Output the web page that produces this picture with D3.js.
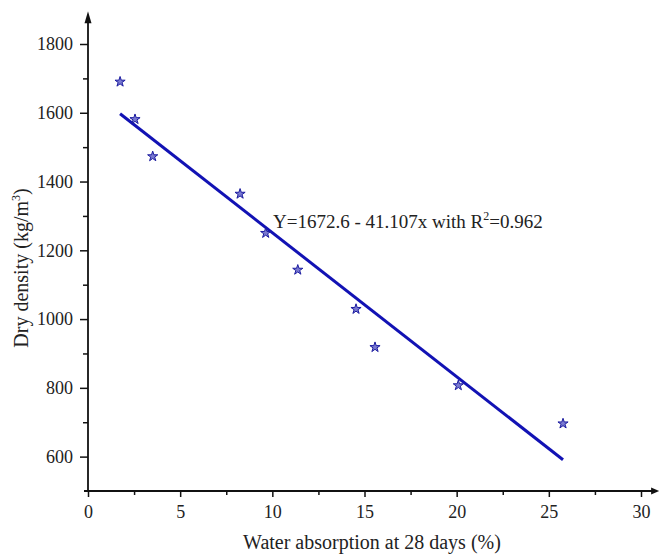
<!DOCTYPE html>
<html>
<head>
<meta charset="utf-8">
<script src="https://cdn.jsdelivr.net/npm/d3@7"></script>
<style>
  body { margin: 0; background: #fff; }
  svg text { font-family: "Liberation Serif", "Times New Roman", serif; fill: #222; }
</style>
</head>
<body>
<div id="chart-area"></div>
<script>
// data
var absorption = [1.74, 2.55, 3.51, 8.25, 9.64, 11.38, 14.54, 15.57, 20.09, 25.77];
var density    = [1690, 1581, 1473, 1364, 1250, 1143, 1029, 918, 807, 696];
var fitX = [1.74, 25.77];
var fitY = [1597, 591];
var xTicks = [0, 5, 10, 15, 20, 25, 30];
var xMinor = [2.5, 7.5, 12.5, 17.5, 22.5, 27.5];
var yTicks = [600, 800, 1000, 1200, 1400, 1600, 1800];
var yMinor = [700, 900, 1100, 1300, 1500, 1700];
var equation = "Y=1672.6 - 41.107x with R";

var width = 660, height = 556;
var serif = "'Liberation Serif', 'Times New Roman', serif";

var svg = d3.select("#chart-area")
    .append("svg")
        .attr("width", width)
        .attr("height", height);

var x = d3.scaleLinear()
    .domain([0, 30])
    .range([88, 641]);

var y = d3.scaleLinear()
    .domain([500, 1800])
    .range([491, 44]);

// x axis
var xAxisCall = d3.axisBottom(x)
    .tickValues(xTicks)
    .tickSize(6)
    .tickPadding(8)
    .tickFormat(d3.format("d"));
var xAxis = svg.append("g")
    .attr("transform", "translate(0," + y(500) + ")")
    .call(xAxisCall)
    .attr("font-family", serif)
    .attr("font-size", 18);
xAxis.select(".domain").remove();
xAxis.selectAll("line").attr("stroke", "#111").attr("stroke-width", 1.5);

var xMinorCall = d3.axisBottom(x).tickValues(xMinor).tickSize(4).tickFormat("");
var xMinorG = svg.append("g")
    .attr("transform", "translate(0," + y(500) + ")")
    .call(xMinorCall);
xMinorG.select(".domain").remove();
xMinorG.selectAll("line").attr("stroke", "#111").attr("stroke-width", 1.5);

// y axis
var yAxisCall = d3.axisLeft(y)
    .tickValues(yTicks)
    .tickSize(8)
    .tickPadding(7)
    .tickFormat(d3.format("d"));
var yAxis = svg.append("g")
    .attr("transform", "translate(" + x(0) + ",0)")
    .call(yAxisCall)
    .attr("font-family", serif)
    .attr("font-size", 18);
yAxis.select(".domain").remove();
yAxis.selectAll("line").attr("stroke", "#111").attr("stroke-width", 1.5);

var yMinorCall = d3.axisLeft(y).tickValues(yMinor).tickSize(5).tickFormat("");
var yMinorG = svg.append("g")
    .attr("transform", "translate(" + x(0) + ",0)")
    .call(yMinorCall);
yMinorG.select(".domain").remove();
yMinorG.selectAll("line").attr("stroke", "#111").attr("stroke-width", 1.5);

// axis lines with arrow heads
svg.append("line")
    .attr("x1", x(0) - 4).attr("y1", y(500))
    .attr("x2", x(30.7)).attr("y2", y(500))
    .attr("stroke", "#111").attr("stroke-width", 1.8);
svg.append("path")
    .attr("d", "M" + x(30.55) + "," + (y(500) - 3.5) + "L" + (x(30.55) + 8) + "," + y(500) + "L" + x(30.55) + "," + (y(500) + 3.5) + "Z")
    .attr("fill", "#111");

svg.append("line")
    .attr("x1", x(0)).attr("y1", y(500))
    .attr("x2", x(0)).attr("y2", y(1870))
    .attr("stroke", "#111").attr("stroke-width", 1.8);
svg.append("path")
    .attr("d", "M" + (x(0) - 3.5) + "," + y(1860) + "L" + x(0) + "," + y(1895) + "L" + (x(0) + 3.5) + "," + y(1860) + "Z")
    .attr("fill", "#111");

// fitted line
var line = d3.line()
    .x(function(d){ return x(d[0]); })
    .y(function(d){ return y(d[1]); });
svg.append("path")
    .datum(d3.zip(fitX, fitY))
    .attr("d", line)
    .attr("fill", "none")
    .attr("stroke", "#1212b4")
    .attr("stroke-width", 3);

// points
svg.selectAll(".pt")
    .data(d3.zip(absorption, density))
    .enter()
    .append("path")
        .attr("class", "pt")
        .attr("d", d3.symbol().type(d3.symbolStar).size(32))
        .attr("transform", function(d){
            return "translate(" + x(d[0]) + "," + y(d[1]) + ")";
        })
        .attr("fill", "#4040bc")
        .attr("fill-opacity", 0.7)
        .attr("stroke", "#1c1ca0")
        .attr("stroke-width", 1);

// equation
var eq = svg.append("text")
    .attr("x", 273)
    .attr("y", 228)
    .attr("font-size", "19px")
    .text(equation);
eq.append("tspan")
    .attr("dy", -8)
    .attr("font-size", "12px")
    .text("2");
eq.append("tspan")
    .attr("dy", 8)
    .text("=0.962");

// axis labels
svg.append("text")
    .attr("x", 372)
    .attr("y", 549)
    .attr("font-size", "20px")
    .attr("text-anchor", "middle")
    .text("Water absorption at 28 days (%)");

var yLabel = svg.append("text")
    .attr("transform", "translate(28,268) rotate(-90)")
    .attr("font-size", "20px")
    .attr("text-anchor", "middle")
    .text("Dry density (kg/m");
yLabel.append("tspan")
    .attr("dy", -8)
    .attr("font-size", "12px")
    .text("3");
yLabel.append("tspan")
    .attr("dy", 8)
    .text(")");
</script>
</body>
</html>
